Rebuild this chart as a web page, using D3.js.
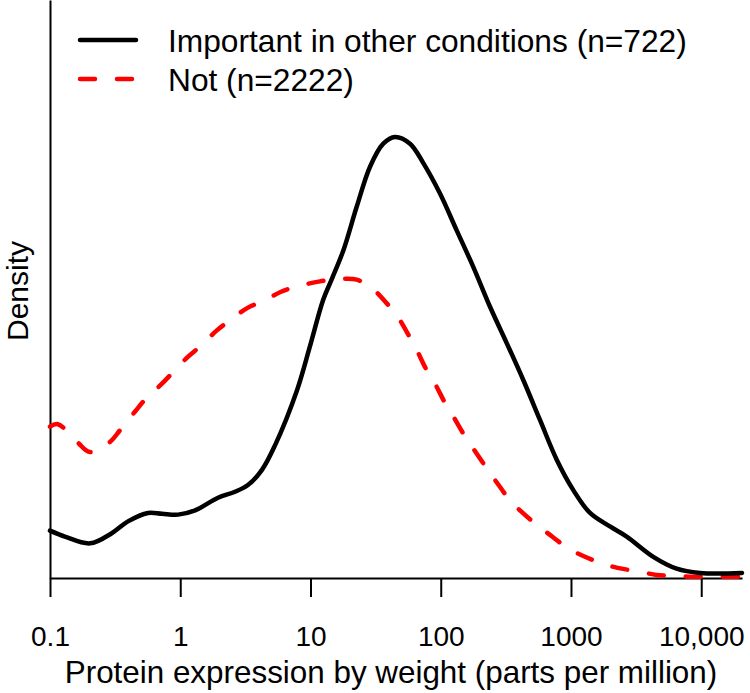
<!DOCTYPE html>
<html>
<head>
<meta charset="utf-8">
<script src="https://cdn.jsdelivr.net/npm/d3@7"></script>
<style>
  html, body { margin: 0; padding: 0; background: #fff; }
  svg { display: block; font-family: "Liberation Sans", Arial, Helvetica, sans-serif; }
</style>
</head>
<body>
<svg id="chart" width="750" height="693"></svg>
<script>
// ---- data (expression in ppm, density per log10 unit) ----
const importantX = [0.1, 0.13, 0.203, 0.298, 0.397, 0.565, 0.724, 0.962, 1.30, 1.95, 2.63, 3.31, 4.24, 5.34, 7.87, 9.9, 12.5, 14.6, 17.9, 22.6, 28.7, 36.2, 44.5, 58.1, 73.5, 98.7, 132, 178, 239, 321, 431, 578, 777, 1042, 1400, 1991, 2677, 4285, 6475, 9780, 20560];
const importantY = [0.056, 0.049, 0.041, 0.053, 0.067, 0.077, 0.076, 0.075, 0.080, 0.095, 0.102, 0.110, 0.128, 0.157, 0.222, 0.274, 0.329, 0.354, 0.388, 0.439, 0.487, 0.514, 0.522, 0.514, 0.491, 0.455, 0.412, 0.368, 0.321, 0.278, 0.234, 0.187, 0.140, 0.104, 0.077, 0.061, 0.049, 0.025, 0.011, 0.006, 0.006];

const notX = [0.1, 0.115, 0.164, 0.203, 0.289, 0.345, 0.450, 0.536, 0.724, 1.15, 1.42, 1.91, 2.41, 3.31, 4.22, 6.01, 7.84, 11.8, 15.0, 18.4, 22.6, 28.7, 38.5, 45.9, 56.4, 65.3, 78.0, 90.3, 108, 125, 153, 178, 225, 261, 340, 406, 545, 690, 953, 1207, 1745, 2275, 3388, 4550, 6475, 8650, 20560];
const notY = [0.179, 0.182, 0.160, 0.149, 0.161, 0.175, 0.197, 0.211, 0.230, 0.262, 0.274, 0.293, 0.305, 0.320, 0.327, 0.339, 0.345, 0.351, 0.353, 0.354, 0.353, 0.345, 0.325, 0.311, 0.288, 0.270, 0.246, 0.230, 0.207, 0.191, 0.168, 0.153, 0.130, 0.116, 0.092, 0.080, 0.063, 0.051, 0.035, 0.027, 0.017, 0.012, 0.0075, 0.0036, 0.0024, 0.0015, 0.0015];

const tickValues = [0.1, 1, 10, 100, 1000, 10000];
const tickLabels = ["0.1", "1", "10", "100", "1000", "10,000"];
const seriesNames = ["Important in other conditions (n=722)", "Not (n=2222)"];
const xTitle = "Protein expression by weight (parts per million)";
const yTitle = "Density";

// ---- layout ----
const svg = d3.select("#chart");
const mLeft = 50, mRight = 742, mTop = 0, mBottom = 578;

const x = d3.scaleLog().domain([0.1, 20560]).range([mLeft, mRight]);
const y = d3.scaleLinear().domain([0, 0.684]).range([mBottom, mTop]);

// axes
const xAxis = d3.axisBottom(x)
  .tickValues(tickValues)
  .tickFormat((d, i) => tickLabels[i])
  .tickSizeInner(19).tickSizeOuter(0).tickPadding(29);
const gx = svg.append("g").attr("transform", `translate(0,${mBottom})`).call(xAxis);
gx.select(".domain").attr("stroke", "#000").attr("stroke-width", 2);
gx.selectAll(".tick line").attr("stroke", "#000").attr("stroke-width", 2);
gx.selectAll(".tick text").attr("fill", "#000").style("font-size", "28px")
  .style("font-family", "'Liberation Sans', Arial, Helvetica, sans-serif");

const yAxis = d3.axisLeft(y).tickValues([]).tickSizeOuter(0);
const gy = svg.append("g").attr("transform", `translate(${mLeft},0)`).call(yAxis);
gy.select(".domain").attr("stroke", "#000").attr("stroke-width", 2);

// titles
svg.append("text").attr("x", 391).attr("y", 683).attr("text-anchor", "middle")
  .style("font-size", "31.4px").text(xTitle);
svg.append("text").attr("transform", "translate(27.5,291) rotate(-90)")
  .attr("text-anchor", "middle").style("font-size", "30px").text(yTitle);

// curves
const mk = (xs, ys) => xs.map((v, i) => [v, ys[i]]);
const lineGen = d3.line().x(d => x(d[0])).y(d => y(d[1])).curve(d3.curveCatmullRom.alpha(0.5));

svg.append("path").datum(mk(notX, notY)).attr("d", lineGen)
  .attr("fill", "none").attr("stroke", "#ff0000").attr("stroke-width", 4.5)
  .attr("stroke-dasharray", "15,22").attr("stroke-linecap", "round");
svg.append("path").datum(mk(importantX, importantY)).attr("d", lineGen)
  .attr("fill", "none").attr("stroke", "#000").attr("stroke-width", 4.5)
  .attr("stroke-linecap", "round").attr("stroke-linejoin", "round");

// legend
const lg = svg.append("g");
lg.append("line").attr("x1", 80).attr("x2", 136).attr("y1", 40).attr("y2", 40)
  .attr("stroke", "#000").attr("stroke-width", 4.5).attr("stroke-linecap", "round");
lg.append("line").attr("x1", 80).attr("x2", 134).attr("y1", 79).attr("y2", 79)
  .attr("stroke", "#ff0000").attr("stroke-width", 4.5).attr("stroke-linecap", "round")
  .attr("stroke-dasharray", "15,22");
lg.append("text").attr("x", 168).attr("y", 52).style("font-size", "31.7px").text(seriesNames[0]);
lg.append("text").attr("x", 168).attr("y", 91).style("font-size", "31.7px").text(seriesNames[1]);
</script>
</body>
</html>
